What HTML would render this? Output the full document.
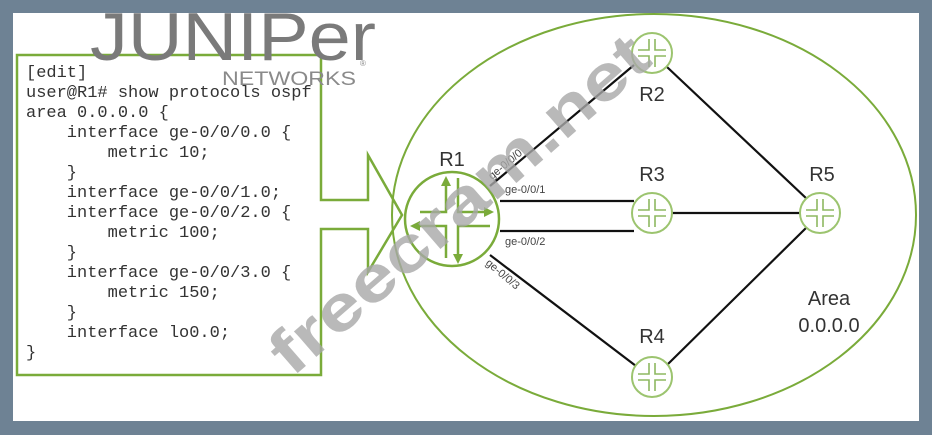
<!DOCTYPE html>
<html><head><meta charset="utf-8"><style>
html,body{margin:0;padding:0;width:932px;height:435px;overflow:hidden;background:#6e8294;}
svg{display:block}
.code text{white-space:pre}
</style></head><body>
<svg width="932" height="435" viewBox="0 0 932 435" xmlns="http://www.w3.org/2000/svg">
<defs>
<g id="rt">
<circle r="20" fill="#fff" stroke="#9cc46f" stroke-width="2"/>
<g stroke="#8db860" stroke-width="1.6" fill="none">
<path d="M-3,-14 V-3 H-14 M3,-14 V-3 H14 M-3,14 V3 H-14 M3,14 V3 H14"/>
</g>
</g>
</defs>
<rect x="13" y="13" width="906" height="408" fill="#fff"/>
<ellipse cx="654" cy="215" rx="262" ry="201" fill="none" stroke="#7aab3a" stroke-width="2"/>
<path d="M17,55 H321 V200 H368 V155 L402,215 L368,272 V229 H321 V375 H17 Z" fill="none" stroke="#7aab3a" stroke-width="2.5"/>
<g stroke="#111" stroke-width="2.2">
<line x1="490" y1="186" x2="634" y2="65"/>
<line x1="500" y1="201" x2="634" y2="201"/>
<line x1="500" y1="231" x2="634" y2="231"/>
<line x1="490" y1="255" x2="636" y2="366"/>
<line x1="667" y1="67" x2="807" y2="199"/>
<line x1="672" y1="213" x2="800" y2="213"/>
<line x1="668" y1="364" x2="806" y2="228"/>
</g>
<circle cx="452" cy="219" r="47" fill="#fff" stroke="#7aab3a" stroke-width="2.5"/>
<g stroke="#7aab3a" stroke-width="2.5" fill="#7aab3a">
<path d="M420,212 H446 V183" fill="none"/><path d="M441,186 L446,176 L451,186 Z" stroke="none"/>
<path d="M458,178 V212 H488" fill="none"/><path d="M484,207 L494,212 L484,217 Z" stroke="none"/>
<path d="M414,226 H446 V258" fill="none"/><path d="M420,221 L410,226 L420,231 Z" stroke="none"/>
<path d="M490,226 H458 V258" fill="none"/><path d="M453,254 L458,264 L463,254 Z" stroke="none"/>
</g>
<use href="#rt" x="652" y="53"/>
<use href="#rt" x="652" y="213"/>
<use href="#rt" x="820" y="213"/>
<use href="#rt" x="652" y="377"/>
<g font-family="Liberation Sans, sans-serif" fill="#333" font-size="20">
<text x="452" y="166" text-anchor="middle">R1</text>
<text x="652" y="101" text-anchor="middle">R2</text>
<text x="652" y="181" text-anchor="middle">R3</text>
<text x="822" y="181" text-anchor="middle">R5</text>
<text x="652" y="343" text-anchor="middle">R4</text>
<text x="829" y="305" text-anchor="middle">Area</text>
<text x="829" y="332" text-anchor="middle">0.0.0.0</text>
</g>
<g font-family="Liberation Sans, sans-serif" fill="#444" font-size="11">
<text transform="translate(492,180) rotate(-40)">ge-0/0/0</text>
<text x="505" y="193">ge-0/0/1</text>
<text x="505" y="245">ge-0/0/2</text>
<text transform="translate(485,264) rotate(40)">ge-0/0/3</text>
</g>
<g class="code" font-family="Liberation Mono, monospace" font-size="17" fill="#333">
<text x="26" y="77">[edit]</text>
<text x="26" y="97">user@R1# show protocols ospf</text>
<text x="26" y="117">area 0.0.0.0 {</text>
<text x="26" y="137">    interface ge-0/0/0.0 {</text>
<text x="26" y="157">        metric 10;</text>
<text x="26" y="177">    }</text>
<text x="26" y="197">    interface ge-0/0/1.0;</text>
<text x="26" y="217">    interface ge-0/0/2.0 {</text>
<text x="26" y="237">        metric 100;</text>
<text x="26" y="257">    }</text>
<text x="26" y="277">    interface ge-0/0/3.0 {</text>
<text x="26" y="297">        metric 150;</text>
<text x="26" y="317">    }</text>
<text x="26" y="337">    interface lo0.0;</text>
<text x="26" y="357">}</text>
</g>
<text x="90" y="60" font-family="Liberation Sans, sans-serif" font-size="68" fill="#7a7a7a" textLength="286" lengthAdjust="spacingAndGlyphs">JUNIPer</text>
<text x="222" y="85" font-family="Liberation Sans, sans-serif" font-size="19" fill="#8a8a8a" textLength="134" lengthAdjust="spacingAndGlyphs">NETWORKS</text>
<text x="360" y="66" font-family="Liberation Sans, sans-serif" font-size="8" fill="#888">®</text>
<text transform="translate(292,378) rotate(-41)" font-family="Liberation Sans, sans-serif" font-weight="bold" font-size="64" fill="#a8a8a8" fill-opacity="0.8" textLength="480" lengthAdjust="spacingAndGlyphs">freecram.net</text>
</svg>
</body></html>
